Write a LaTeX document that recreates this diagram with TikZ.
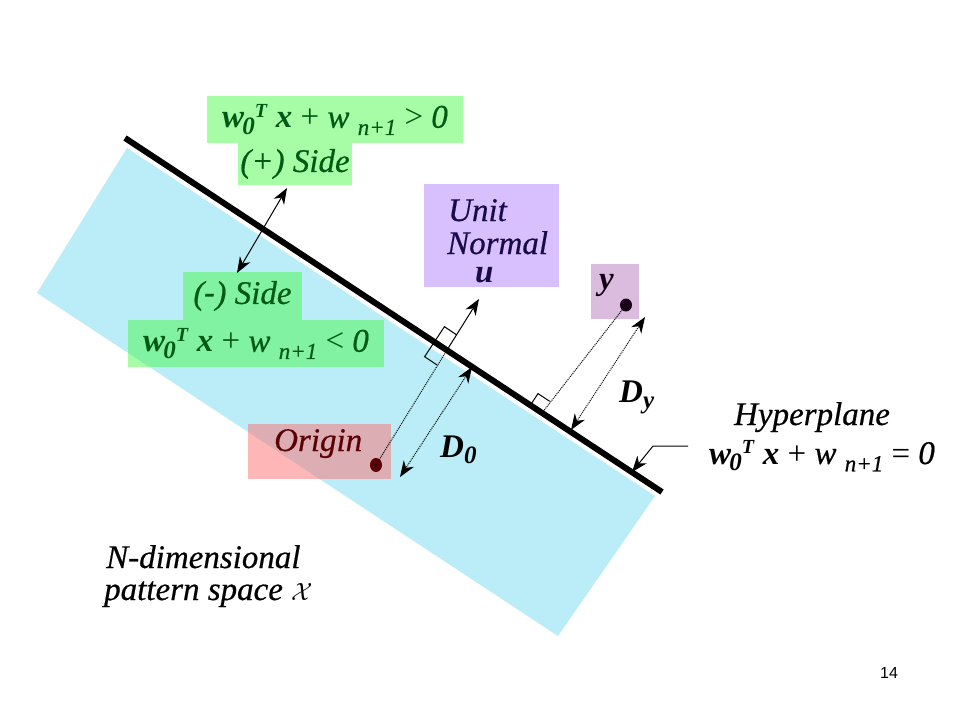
\documentclass[tikz,border=0pt]{standalone}
\usepackage{fontspec}
\setmainfont{Liberation Serif}[ItalicFeatures={FakeBold=0.5}]
\newfontfamily\sansf{Liberation Sans}
\usetikzlibrary{arrows.meta,calc,shapes.geometric}
\definecolor{bandc}{RGB}{186,237,247}
\definecolor{grn}{RGB}{60,250,60}
\definecolor{grntext}{RGB}{0,90,20}
\definecolor{lav}{RGB}{216,192,255}
\definecolor{yboxc}{RGB}{220,188,222}
\definecolor{pinkc}{RGB}{255,110,110}
\definecolor{navy}{RGB}{25,10,75}
\definecolor{dred}{RGB}{90,0,5}
\newcommand{\bigf}{\fontsize{33}{34}\selectfont}
\newcommand{\subf}{\fontsize{23}{23}\selectfont}
\newcommand{\supf}{\fontsize{20}{20}\selectfont}
\newcommand{\wzT}{\textbf{\textit{w}}\hspace{-2pt}\raisebox{-0.2em}{\fontsize{25}{25}\selectfont\textbf{\textit{0}}}\raisebox{0.32em}{\supf\textbf{\textit{T}}}}
\newcommand{\hypf}[1]{\wzT\ \textbf{\textit{x}} + \textit{w} \raisebox{-0.22em}{\subf\textit{n+1}} #1 \textit{0}}
\begin{document}
\begin{tikzpicture}[x=1pt,y=-1pt,
  gbox/.style={fill=grn, fill opacity=0.46, text opacity=1, text=grntext, inner sep=0pt, font=\bigf},
  lbl/.style={inner sep=0pt, font=\bigf},
  arr/.style={-{Stealth[length=16pt,width=12pt,inset=5pt]}, line width=1pt},
  darr/.style={{Stealth[length=16pt,width=12pt,inset=5pt]}-{Stealth[length=16pt,width=12pt,inset=5pt]}, line width=1pt},
  dotl/.style={densely dotted, line width=1pt},
  rmark/.style={line width=1pt}]
\useasboundingbox (0,0) rectangle (960,720);
% pattern space band
\fill[bandc] (127,148) -- (655,496) -- (558,636) -- (37,293) -- cycle;
% hyperplane
\coordinate (hp1) at (125,138);
\coordinate (hp2) at (662,492);
\draw[line width=6pt] (hp1) -- (hp2);
% boxes
\node[gbox, minimum width=256pt, minimum height=47pt] (gplus) at (335,119.5) {\hypf{>}};
\node[gbox, minimum width=114pt, minimum height=42pt] (splus) at (295,164) {\textit{(+) Side}};
\node[gbox, minimum width=119pt, minimum height=48pt] (sminus) at (242.5,296) {\textit{(\textbf{-}) Side}};
\node[gbox, minimum width=256pt, minimum height=47pt] (gminus) at (256,343.5) {\hypf{<}};
\node[fill=lav, minimum width=135pt, minimum height=103pt, inner sep=0pt] (unbox) at (491.5,235.5) {};
\node[fill=yboxc, minimum width=48pt, minimum height=55pt, inner sep=0pt] (ybox) at (615,291.5) {};
\node[fill=pinkc, fill opacity=0.5, minimum width=143pt, minimum height=55pt, inner sep=0pt] (obox) at (319.5,451.5) {};
% texts in purple box
\node[lbl, text=navy, anchor=base west] (t1) at (448,221) {\textit{Unit}};
\node[lbl, text=navy, anchor=base west] (t2) at (447,254) {\textit{Normal}};
\node[lbl, text=navy, anchor=base west] (t3) at (475,282) {\textbf{\textit{u}}};
% points
\node[lbl, text=black!85!violet, anchor=base west] (ylab) at (599,289) {\textbf{\textit{y}}};
\node[ellipse, fill=black!80!violet, minimum width=12pt, minimum height=13pt, inner sep=0pt] (ydot) at (626,305) {};
\node[lbl, text=dred, anchor=base west] (olab) at (274,451) {\textit{Origin}};
\node[ellipse, fill=dred, minimum width=12pt, minimum height=14pt, inner sep=0pt] (odot) at (376,465) {};
% feet
\coordinate (F0) at (447,350);
\coordinate (Fy) at (542,413);
\coordinate (ntip) at (479,299);
% normal and perpendiculars
\draw[dotl] (odot.center) -- (F0);
\draw[arr] (F0) -- (ntip);
\draw[rmark] (456.9,335) -- (444.4,326.7) -- (424.6,356.7) -- (437.1,365);
\draw[dotl] (ydot.center) -- (Fy);
\draw[rmark] (549.7,401.3) -- (538,393.6) -- (530.3,405.3);
% distances
\coordinate (d0a) at (472,367);
\coordinate (d0b) at (400,477);
\draw[darr, densely dotted] (d0a) -- (d0b);
\coordinate (dya) at (571,430);
\coordinate (dyb) at (645,317);
\draw[darr, densely dotted] (dya) -- (dyb);
\node[lbl, anchor=base west] (D0) at (440,457) {\textbf{\textit{D}}\raisebox{-0.2em}{\fontsize{25}{25}\selectfont\textbf{\textit{0}}}};
\node[lbl, anchor=base west] (Dy) at (619,402) {\textbf{\textit{D}}\raisebox{-0.2em}{\fontsize{25}{25}\selectfont\textbf{\textit{y}}}};
% side arrow
\coordinate (sidea) at (287,188);
\coordinate (sideb) at (237,273);
\draw[darr] (sidea) -- (sideb);
% hyperplane label
\node[lbl, anchor=base] (hyp) at (812,425) {\textit{Hyperplane}};
\node[lbl, anchor=base] (hypeq) at (822,464) {\hypf{=}};
\coordinate (pa) at (688,446);
\coordinate (pb) at (653,446);
\coordinate (pt) at (632,472);
\draw[arr] (pa) -- (pb) -- (pt);
% space label
\node[lbl, anchor=base west] (nd1) at (106,568) {\textit{N-dimensional}};
\node[lbl, anchor=base west] (nd2) at (104,600) {\textit{pattern space} $\mathcal{X}$};
\node[inner sep=0pt, font=\sansf\fontsize{16}{16}\selectfont] (pg) at (889,673) {14};
\end{tikzpicture}
\end{document}
